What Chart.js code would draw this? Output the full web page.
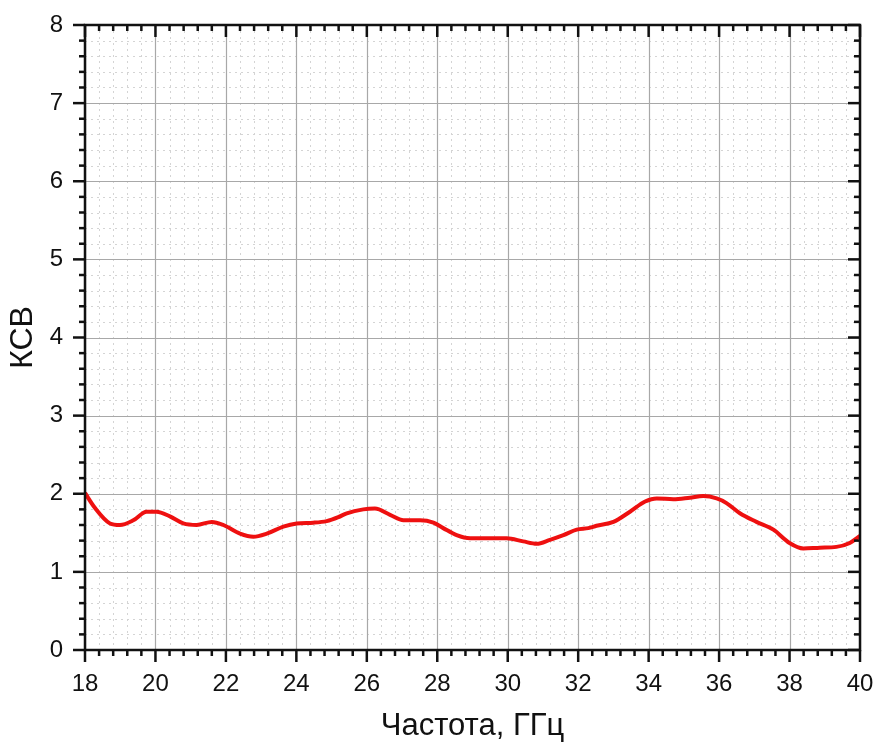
<!DOCTYPE html>
<html>
<head>
<meta charset="utf-8">
<script src="https://cdn.jsdelivr.net/npm/chart.js@4"></script>
<style>
  html, body { margin: 0; padding: 0; background: #fff; }
  #wrap { width: 877px; height: 745px; }
</style>
</head>
<body>
<div id="wrap"><canvas id="c" width="877" height="745"></canvas></div>
<script>
// Measured VSWR across the 18–40 GHz band
const freqGHz = [18.00, 18.28, 18.71, 18.99, 19.37, 19.75, 20.03, 20.41, 20.79, 21.17,
                 21.60, 21.93, 22.40, 22.78, 23.16, 23.63, 24.01, 24.48, 24.86, 25.19,
                 25.43, 25.90, 26.23, 26.66, 27.04, 27.51, 27.89, 28.17, 28.55, 28.93,
                 29.50, 29.97, 30.44, 30.82, 31.20, 31.58, 31.96, 32.29, 32.52, 33.00,
                 33.47, 33.90, 34.23, 34.70, 35.17, 35.55, 35.93, 36.21, 36.59, 37.06,
                 37.54, 38.00, 38.39, 38.86, 39.33, 39.71, 40.00];
const vswr =    [2.01, 1.82, 1.62, 1.60, 1.66, 1.77, 1.77, 1.71, 1.62, 1.60,
                 1.64, 1.60, 1.49, 1.45, 1.49, 1.58, 1.62, 1.63, 1.65, 1.70,
                 1.75, 1.80, 1.81, 1.73, 1.66, 1.66, 1.63, 1.56, 1.47, 1.43,
                 1.43, 1.43, 1.39, 1.36, 1.41, 1.47, 1.54, 1.56, 1.59, 1.64,
                 1.77, 1.90, 1.94, 1.93, 1.95, 1.97, 1.94, 1.88, 1.75, 1.64,
                 1.54, 1.37, 1.30, 1.31, 1.32, 1.37, 1.46];

const xRange = { min: 18, max: 40, major: 2, minor: 0.4 };
const yRange = { min: 0, max: 8, major: 1, minor: 0.2 };
const xTitle = 'Частота, ГГц';
const yTitle = 'КСВ';

const FONT = '"Liberation Sans", Arial, sans-serif';

function steps(min, max, step) {
  const out = [];
  const n = Math.round((max - min) / step);
  for (let i = 0; i <= n; i++) out.push(+(min + i * step).toFixed(6));
  return out;
}
function isMajor(v, major) {
  return Math.abs(v / major - Math.round(v / major)) < 1e-6;
}

// Grid (major solid, minor dotted) behind the data
const gridPlugin = {
  id: 'originGrid',
  beforeDatasetsDraw(chart) {
    const { ctx, chartArea: a, scales: { x, y } } = chart;
    ctx.save();
    ctx.lineWidth = 1;
    ctx.strokeStyle = '#d4d4d4';
    ctx.setLineDash([2, 4]);
    steps(xRange.min, xRange.max, xRange.minor).forEach(v => {
      if (isMajor(v, xRange.major)) return;
      const px = Math.round(x.getPixelForValue(v)) + 0.5;
      ctx.beginPath(); ctx.moveTo(px, a.top); ctx.lineTo(px, a.bottom); ctx.stroke();
    });
    steps(yRange.min, yRange.max, yRange.minor).forEach(v => {
      if (isMajor(v, yRange.major)) return;
      const py = Math.round(y.getPixelForValue(v)) + 0.5;
      ctx.beginPath(); ctx.moveTo(a.left, py); ctx.lineTo(a.right, py); ctx.stroke();
    });
    ctx.setLineDash([]);
    ctx.strokeStyle = '#a8a8a8';
    ctx.lineWidth = 1.2;
    steps(xRange.min, xRange.max, xRange.major).forEach(v => {
      const px = Math.round(x.getPixelForValue(v)) + 0.5;
      ctx.beginPath(); ctx.moveTo(px, a.top); ctx.lineTo(px, a.bottom); ctx.stroke();
    });
    steps(yRange.min, yRange.max, yRange.major).forEach(v => {
      const py = Math.round(y.getPixelForValue(v)) + 0.5;
      ctx.beginPath(); ctx.moveTo(a.left, py); ctx.lineTo(a.right, py); ctx.stroke();
    });
    ctx.restore();
  },
  // Frame with outward ticks on bottom/left, inward ticks on top/right
  afterDraw(chart) {
    const { ctx, chartArea: a, scales: { x, y } } = chart;
    const MAJ = 12, MIN = 6;
    ctx.save();
    ctx.strokeStyle = '#111';
    ctx.lineWidth = 2.5;
    ctx.lineCap = 'butt';
    ctx.strokeRect(a.left, a.top, a.right - a.left, a.bottom - a.top);
    steps(xRange.min, xRange.max, xRange.minor).forEach(v => {
      const px = x.getPixelForValue(v);
      const len = isMajor(v, xRange.major) ? MAJ : MIN;
      ctx.beginPath(); ctx.moveTo(px, a.bottom); ctx.lineTo(px, a.bottom + len); ctx.stroke();
      ctx.beginPath(); ctx.moveTo(px, a.top); ctx.lineTo(px, a.top + len); ctx.stroke();
    });
    steps(yRange.min, yRange.max, yRange.minor).forEach(v => {
      const py = y.getPixelForValue(v);
      const len = isMajor(v, yRange.major) ? MAJ : MIN;
      ctx.beginPath(); ctx.moveTo(a.left, py); ctx.lineTo(a.left - len, py); ctx.stroke();
      ctx.beginPath(); ctx.moveTo(a.right, py); ctx.lineTo(a.right - len, py); ctx.stroke();
    });
    ctx.restore();
  }
};

const points = freqGHz.map((f, i) => ({ x: f, y: vswr[i] }));

new Chart(document.getElementById('c'), {
  type: 'line',
  data: {
    datasets: [{
      data: points,
      borderColor: '#ee1010',
      borderWidth: 4,
      pointRadius: 0,
      cubicInterpolationMode: 'monotone',
      fill: false
    }]
  },
  options: {
    responsive: false,
    animation: false,
    devicePixelRatio: 1,
    layout: { padding: { top: 25, right: 17, left: 0, bottom: 0 } },
    plugins: { legend: { display: false }, tooltip: { enabled: false } },
    scales: {
      x: {
        type: 'linear',
        min: xRange.min, max: xRange.max,
        grid: { display: false, drawTicks: false },
        border: { display: false },
        ticks: {
          stepSize: xRange.major,
          color: '#111',
          font: { family: FONT, size: 24 },
          padding: 20,
          maxRotation: 0,
          autoSkip: false
        },
        title: {
          display: true, text: xTitle, color: '#111',
          font: { family: FONT, size: 31 },
          padding: { top: 4, bottom: 0 }
        },
        afterFit(s) { s.height = 95; s.paddingLeft = 0; s.paddingRight = 0; }
      },
      y: {
        type: 'linear',
        min: yRange.min, max: yRange.max,
        grid: { display: false, drawTicks: false },
        border: { display: false },
        ticks: {
          stepSize: yRange.major,
          color: '#111',
          font: { family: FONT, size: 24 },
          padding: 22
        },
        title: {
          display: true, text: yTitle, color: '#111',
          font: { family: FONT, size: 32 },
          padding: { top: 4, bottom: 0 }
        },
        afterFit(s) { s.width = 85; s.paddingTop = 0; s.paddingBottom = 0; }
      }
    }
  },
  plugins: [gridPlugin]
});
</script>
</body>
</html>
